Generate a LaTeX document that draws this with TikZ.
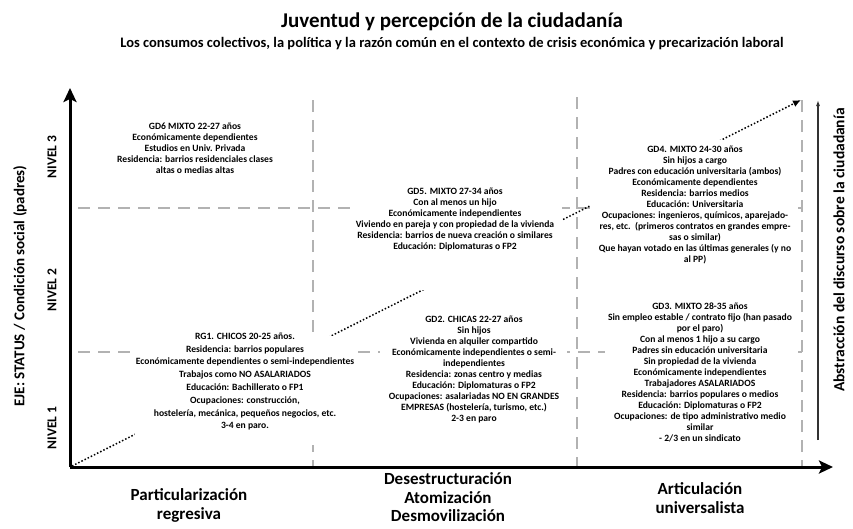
\documentclass[tikz,border=0pt]{standalone}
\usepackage{fontspec}
\setmainfont{Carlito}
\usetikzlibrary{arrows.meta}
\begin{document}
\begin{tikzpicture}[x=1pt,y=-1pt,
  txt/.style={align=center, font=\bfseries\fontsize{9.6}{11}\selectfont, inner sep=0pt},
  txtw/.style={align=center, font=\bfseries\fontsize{9.6}{12.8}\selectfont, inner sep=0pt},
  cover/.style={fill=white, draw=none, inner sep=0pt},
  gridline/.style={draw=gray!60, line width=1.3pt, dash pattern=on 12pt off 8pt},
  axisline/.style={line width=3pt, -{Stealth[length=14pt,width=13pt,inset=3pt]}},
  trend/.style={line width=1.5pt, dotted, -{Latex[length=8pt,width=7pt]}},
  axlabel/.style={font=\bfseries\fontsize{17}{18.5}\selectfont, align=center, inner sep=0pt},
  nivel/.style={font=\bfseries\fontsize{13.5}{15}\selectfont, rotate=90, inner sep=0pt}]
\useasboundingbox (0,0) rectangle (853,528);
\fill[white] (0,0) rectangle (853,528);

% titles
\node[font=\bfseries\fontsize{21}{24}\selectfont, inner sep=0pt] (title) at (452,22) {Juventud y percepción de la ciudadanía};
\node[font=\bfseries\fontsize{14.5}{16}\selectfont, inner sep=0pt] (subtitle) at (452,44) {Los consumos colectivos, la política y la razón común en el contexto de crisis económica y precarización laboral};

% grid coordinates
\coordinate (o) at (70,467);
\coordinate (ytop) at (70,88);
\coordinate (xend) at (833,467);
\coordinate (v1t) at (313,100); \coordinate (v1b) at (313,467);
\coordinate (v2t) at (577,97);  \coordinate (v2b) at (577,467);
\coordinate (v3t) at (802,100); \coordinate (v3b) at (802,467);
\coordinate (h1l) at (78,208);  \coordinate (h1r) at (802,208);
\coordinate (h2l) at (78,352);  \coordinate (h2r) at (802,352);
\coordinate (ds) at (72,466);   \coordinate (de) at (801,100);

\draw[gridline] (v1t) -- (v1b);
\draw[gridline] (v2t) -- (v2b);
\draw[gridline] (v3t) -- (v3b);
\draw[gridline] (h1l) -- (h1r);
\draw[gridline] (h2l) -- (h2r);

% diagonal trend
\draw[trend] (ds) -- (de);

% white covers of the text boxes
\node[cover, minimum width=220pt, minimum height=109pt] (rg1box) at (245,390.5) {};
\node[cover, minimum width=210pt, minimum height=106pt] (gd5box) at (457,237) {};
\node[cover, minimum width=187pt, minimum height=119pt] (gd2box) at (473.5,372.5) {};
\node[cover, minimum width=206pt, minimum height=132pt] (gd4box) at (693,206) {};
\node[cover, minimum width=192pt, minimum height=150pt] (gd3box) at (701,373) {};

% texts
\node[txt] (gd6) at (195,148) {GD6 MIXTO 22-27 años\\Económicamente dependientes\\Estudios en Univ. Privada\\Residencia: barrios residenciales clases\\altas o medias altas};
\node[txt] (gd5) at (455,219.5) {GD5. MIXTO 27-34 años\\Con al menos un hijo\\Económicamente independientes\\Viviendo en pareja y con propiedad de la vivienda\\Residencia: barrios de nueva creación o similares\\Educación: Diplomaturas o FP2};
\node[txt] (gd4) at (695,205) {GD4. MIXTO 24-30 años\\Sin hijos a cargo\\Padres con educación universitaria (ambos)\\Económicamente dependientes\\Residencia: barrios medios\\Educación: Universitaria\\Ocupaciones: ingenieros, químicos, aparejado-\\res, etc.\ \ (primeros contratos en grandes empre-\\sas o similar)\\Que hayan votado en las últimas generales (y no\\al PP)};
\node[txtw] (rg1) at (245,381.5) {RG1. CHICOS 20-25 años.\\Residencia: barrios populares\\Económicamente dependientes o semi-independientes\\Trabajos como NO ASALARIADOS\\Educación: Bachillerato o FP1\\Ocupaciones: construcción,\\hostelería, mecánica, pequeños negocios, etc.\\3-4 en paro.};
\node[txt] (gd2) at (474,369.5) {GD2. CHICAS 22-27 años\\Sin hijos\\Vivienda en alquiler compartido\\Económicamente independientes o semi-\\independientes\\Residencia: zonas centro y medias\\Educación: Diplomaturas o FP2\\Ocupaciones: asalariadas NO EN GRANDES\\EMPRESAS (hostelería, turismo, etc.)\\2-3 en paro};
\node[txt] (gd3) at (700,372.5) {GD3. MIXTO 28-35 años\\Sin empleo estable / contrato fijo (han pasado\\por el paro)\\Con al menos 1 hijo a su cargo\\Padres sin educación universitaria\\Sin propiedad de la vivienda\\Económicamente independientes\\Trabajadores ASALARIADOS\\Residencia: barrios populares o medios\\Educación: Diplomaturas o FP2\\Ocupaciones: de tipo administrativo medio\\similar\\- 2/3 en un sindicato};

% axes
\draw[axisline] (o) -- (ytop);
\draw[axisline] (o) -- (xend);

% left labels
\node[font=\bfseries\fontsize{15}{17}\selectfont, rotate=90, inner sep=0pt] (eje) at (20,286) {EJE: STATUS / Condición social (padres)};
\node[nivel] (n3) at (52,157) {NIVEL 3};
\node[nivel] (n2) at (52,290) {NIVEL 2};
\node[nivel] (n1) at (52,428) {NIVEL 1};

% right abstraction axis
\coordinate (ab) at (818,440);
\coordinate (at) at (818,100);
\draw[line width=1.2pt, draw=black!80, -{Latex[length=6pt,width=4pt]}] (ab) -- (at);
\node[font=\bfseries\fontsize{15.5}{17}\selectfont, rotate=90, inner sep=0pt] (abs) at (839,250) {Abstracción del discurso sobre la ciudadanía};

% bottom labels
\node[axlabel] (part) at (189,505.5) {Particularización\\regresiva};
\node[axlabel] (des) at (448,497.5) {Desestructuración\\Atomización\\Desmovilización};
\node[axlabel] (art) at (700,498) {Articulación\\universalista};
\end{tikzpicture}
\end{document}
